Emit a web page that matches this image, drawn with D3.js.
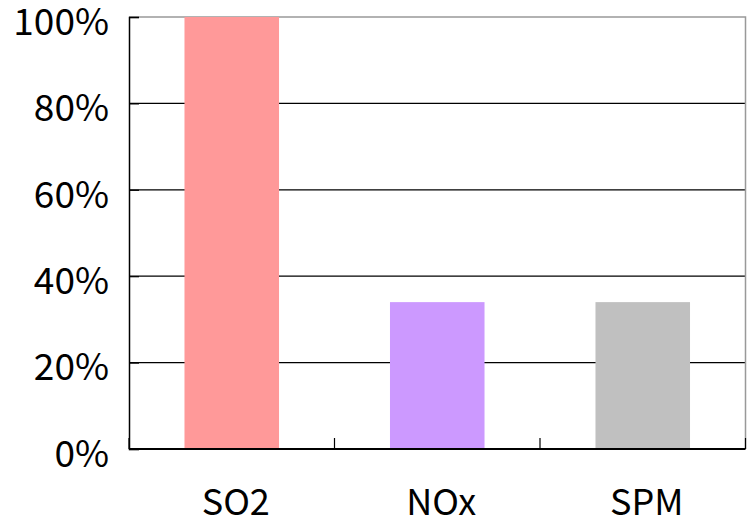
<!DOCTYPE html>
<html>
<head>
<meta charset="utf-8">
<script src="https://cdn.jsdelivr.net/npm/d3@7"></script>
<style>
  html, body { margin: 0; padding: 0; background: #fff; }
  svg { display: block; }
  text { font-family: "Noto Sans CJK JP", "Liberation Sans", Arial, sans-serif; fill: #000; }
</style>
</head>
<body>
<svg id="chart" width="747" height="521"></svg>
<script>
// Pollutant shares (fraction of SO2 level)
const categories = ["SO2", "NOx", "SPM"];
const values = [1.00, 0.34, 0.34];
const barColors = ["#FF9999", "#CC99FF", "#C0C0C0"];
const yTicks = [0, 0.2, 0.4, 0.6, 0.8, 1.0];

const W = 747, H = 521;
const margin = { top: 17, right: 1.5, bottom: 72, left: 129 };
const svg = d3.select("#chart");

const x = d3.scaleBand()
  .domain(categories)
  .range([margin.left, W - margin.right])
  .paddingInner(0.54)
  .paddingOuter(0.27);

const y = d3.scaleLinear()
  .domain([0, 1])
  .range([H - margin.bottom, margin.top]);

// Horizontal gridlines
svg.append("g")
  .selectAll("line")
  .data(yTicks.filter(t => t > 0 && t < 1))
  .join("line")
  .attr("x1", margin.left).attr("x2", W - margin.right)
  .attr("y1", d => y(d)).attr("y2", d => y(d))
  .attr("stroke", "#000").attr("stroke-width", 1.2);

// Top and right frame
svg.append("path")
  .attr("d", `M${margin.left},${y(1)}H${W - margin.right}V${y(0)}`)
  .attr("fill", "none").attr("stroke", "#999").attr("stroke-width", 1.5);

// Bars
svg.append("g")
  .selectAll("rect")
  .data(categories.map((c, i) => ({ c, v: values[i], col: barColors[i] })))
  .join("rect")
  .attr("x", d => x(d.c))
  .attr("width", x.bandwidth())
  .attr("y", d => y(d.v))
  .attr("height", d => y(0) - y(d.v))
  .attr("fill", d => d.col);

// Y axis
const yAxis = svg.append("g")
  .attr("transform", `translate(${margin.left},0)`)
  .call(d3.axisLeft(y).tickValues(yTicks).tickFormat(d3.format(".0%")).tickSize(-10).tickPadding(20));
yAxis.select(".domain").attr("stroke", "#000").attr("stroke-width", 1.5);
yAxis.selectAll(".tick line").attr("stroke", "#000").attr("stroke-width", 1.2);
yAxis.selectAll(".tick text")
  .attr("font-size", 37).attr("dy", "0.47em")
  .style("font-family", '"Noto Sans CJK JP", "Liberation Sans", Arial, sans-serif');

// X axis with inward ticks at category boundaries
const xAxisG = svg.append("g")
  .attr("transform", `translate(0,${y(0)})`);
xAxisG.append("line")
  .attr("x1", margin.left).attr("x2", W - margin.right)
  .attr("stroke", "#000").attr("stroke-width", 2);
const bounds = d3.range(categories.length + 1).map(i => margin.left + i * (W - margin.right - margin.left) / categories.length);
xAxisG.selectAll("line.tk")
  .data(bounds)
  .join("line").attr("class", "tk")
  .attr("x1", d => d).attr("x2", d => d)
  .attr("y1", 0).attr("y2", -11)
  .attr("stroke", "#000").attr("stroke-width", 1.2);
xAxisG.selectAll("text")
  .data(categories)
  .join("text")
  .attr("x", d => x(d) + x.bandwidth() / 2 + 4)
  .attr("y", 66)
  .attr("text-anchor", "middle")
  .attr("font-size", 36)
  .text(d => d);
</script>
</body>
</html>
